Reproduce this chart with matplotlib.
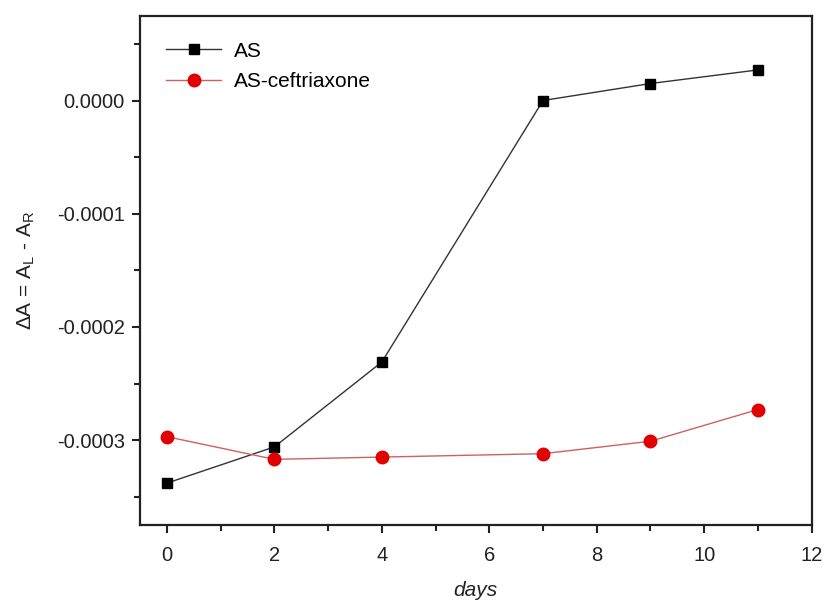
import matplotlib
matplotlib.use('Agg')
import matplotlib.pyplot as plt
from matplotlib.ticker import MultipleLocator, FormatStrFormatter

plt.rcParams['font.family'] = ['Liberation Sans', 'DejaVu Sans']
plt.rcParams['mathtext.fontset'] = 'custom'
plt.rcParams['mathtext.rm'] = 'Liberation Sans'
plt.rcParams['mathtext.it'] = 'Liberation Sans:italic'

days = [0, 2, 4, 7, 9, 11]
as_vals = [-0.000338, -0.000306, -0.000231, 0.0, 0.000015, 0.000027]
asc_vals = [-0.000297, -0.000317, -0.000315, -0.000312, -0.000301, -0.000273]

fig = plt.figure(figsize=(8.24, 6), dpi=100)
ax = fig.add_axes([0.170, 0.125, 0.815, 0.849])

ax.plot(days, as_vals, '-', color='#333333', lw=1, marker='s', ms=7.5,
        mfc='black', mec='black', label='AS')
ax.plot(days, asc_vals, '-', color='#d06060', lw=1, marker='o', ms=9,
        mfc='#e00000', mec='#e00000', label='AS-ceftriaxone')

ax.set_xlim(-0.5, 12)
ax.set_ylim(-0.000375, 0.000075)
ax.xaxis.set_major_locator(MultipleLocator(2))
ax.xaxis.set_minor_locator(MultipleLocator(1))
ax.yaxis.set_major_locator(MultipleLocator(0.0001))
ax.yaxis.set_minor_locator(MultipleLocator(0.00005))
ax.yaxis.set_major_formatter(FormatStrFormatter('%.4f'))

ax.tick_params(which='both', direction='out', top=False, right=False,
               labelsize=14.5, colors='#222222', width=1.5)
ax.tick_params(which='major', length=6)
ax.tick_params(which='minor', length=4)
ax.tick_params(axis='x', which='major', pad=9)
ax.tick_params(axis='y', which='major', pad=5)
for s in ax.spines.values():
    s.set_linewidth(1.6)
    s.set_color('#222222')

ax.set_xlabel('days', fontsize=15, style='italic', color='#222222', labelpad=12)
ax.set_ylabel(r'$\Delta$A = A$_\mathrm{L}$ - A$_\mathrm{R}$', fontsize=15,
              color='#222222', labelpad=14)

ax.legend(loc='upper left', frameon=False, fontsize=15, handlelength=2.65,
          borderaxespad=0.85, labelspacing=0.55, handletextpad=0.6)

fig.savefig('out.png', dpi=100)
